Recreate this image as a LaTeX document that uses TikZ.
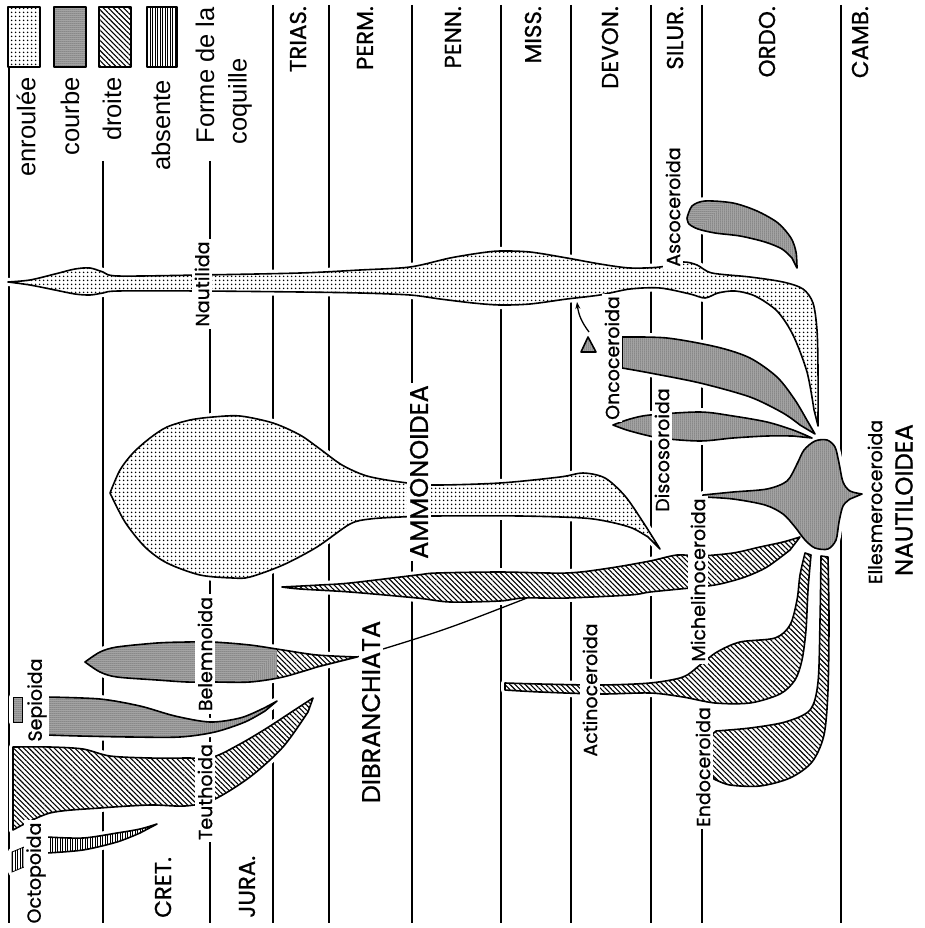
\documentclass[tikz,border=0pt]{standalone}
\usepackage{fontspec}
\setmainfont{Liberation Sans}
\newfontfamily\geo{Poppins}[FakeBold=0.8]
\usetikzlibrary{patterns.meta,arrows.meta}

% outlines of the shell groups (pixel units, y downwards)
\newcommand\shpNautilida{plot[smooth] coordinates {(8,282) (30,280) (55,274) (75,269) (90,268) (103,272) (118,276) (200,275) (300,273) (360,270) (410,267) (450,258) (480,253) (500,251) (530,252) (567,258) (600,264) (630,268) (660,267) (683,262) (697,265) (712,273) (750,277) (783,282) (803,289) (813,303) (817,330) (818,370) (818,426)} -- plot[smooth] coordinates {(814,410) (807,372) (793,335) (777,311) (755,296) (735,291) (718,293) (705,298) (690,294) (660,288) (630,289) (600,295) (567,299) (530,304) (500,305) (473,303) (440,299) (410,295) (360,293) (300,292) (200,291) (118,291) (103,293) (90,295) (75,294) (55,290) (30,285) (8,282)} -- cycle}
\newcommand\shpAmmonoidea{plot[smooth] coordinates {(110,493) (120,470) (133,453) (150,438) (167,427) (190,420) (213,417) (240,416) (273,423) (300,435) (320,449) (342,465) (367,476) (400,482) (433,485) (500,483) (560,477) (583,473) (605,478) (625,496) (643,522) (660,549)} -- plot[smooth] coordinates {(648,537) (632,528) (610,522) (583,518) (520,516) (433,516) (400,517) (370,519) (350,524) (317,547) (283,565) (250,577) (233,578) (200,575) (167,563) (145,547) (125,522) (110,493)} -- cycle}
\newcommand\shpMichelino{plot[smooth] coordinates {(282,587) (320,585) (350,583) (417,575) (437,573) (500,572) (567,573) (610,568) (650,561) (677,555) (700,556) (733,553) (760,547) (783,542) (800,537)} -- plot[smooth] coordinates {(790,550) (767,567) (745,577) (720,584) (700,587) (680,589) (650,592) (630,595) (567,598) (523,598) (500,601) (450,602) (417,598) (350,592) (300,589) (282,587)} -- cycle}
\newcommand\shpBelemnoida{plot[smooth] coordinates {(85,662) (100,652) (117,647) (157,643) (187,642) (213,642) (250,645) (283,650) (317,655) (357,657)} -- plot[smooth] coordinates {(317,667) (283,677) (250,682) (213,682) (187,682) (157,680) (117,677) (100,672) (85,662)} -- cycle}
\newcommand\shpSepioida{plot[smooth] coordinates {(47,697) (100,699) (140,706) (175,716) (210,722) (240,718) (262,709) (277,701)} -- plot[smooth] coordinates {(265,711) (245,722) (215,732) (180,737) (130,737) (80,736) (47,735)} -- cycle}
\newcommand\shpSepioidaBit{(13,697) rectangle (22,722)}
\newcommand\shpTeuthoida{plot[smooth] coordinates {(13,747) (50,747) (83,749) (110,756) (150,758) (185,758) (213,757) (240,744) (267,728) (293,711) (313,698)} -- plot[smooth] coordinates {(308,712) (283,747) (250,777) (213,800) (185,806) (150,805) (100,808) (50,813) (13,830)} -- cycle}
\newcommand\shpOctopoida{plot[smooth] coordinates {(47,837) (83,838) (117,833) (140,829) (157,824)} -- plot[smooth] coordinates {(140,833) (117,842) (83,850) (47,853)} -- cycle}
\newcommand\shpOctopoidaBit{(12,852) -- (24,847) -- (24,867) -- (12,872) -- cycle}
\newcommand\shpOncoceroida{plot[smooth] coordinates {(622,337) (667,338) (717,347) (750,358) (777,377) (795,400) (808,422) (815,434)} -- plot[smooth] coordinates {(800,425) (783,413) (750,397) (700,383) (650,373) (622,368)} -- cycle}
\newcommand\shpOncoBud{(581,352) -- (588,337) -- (596,352) -- cycle}
\newcommand\shpDiscosoroida{plot[smooth] coordinates {(613,425) (630,419) (650,415) (700,412) (733,416) (767,422) (793,430) (812,438)} -- plot[smooth] coordinates {(793,436) (767,436) (733,438) (700,441) (660,438) (630,431) (613,425)} -- cycle}
\newcommand\shpAscoceroida{plot[smooth] coordinates {(687,218) (692,206) (705,201) (733,203) (757,211) (778,223) (791,238) (796,252) (797,268)} -- plot[smooth] coordinates {(792,258) (782,249) (765,242) (740,236) (715,233) (698,229) (689,224) (687,218)} -- cycle}
\newcommand\shpActinoceroida{plot[smooth] coordinates {(505,683) (540,684) (600,685) (650,683) (683,677) (700,665) (717,652) (740,642) (775,638) (790,625) (797,600) (800,575) (805,553)} -- plot[smooth] coordinates {(811,555) (808,590) (806,630) (802,660) (795,680) (780,694) (750,703) (715,703) (683,697) (650,693) (600,694) (540,692) (505,690)} -- cycle}
\newcommand\shpEndoceroida{plot[smooth] coordinates {(821,556) (820,620) (818,682) (810,710) (785,722) (750,728) (716,731)} -- (708,738) -- (708,768) -- plot[smooth] coordinates {(714,779) (730,785) (760,786) (790,778) (812,762) (824,735) (828,690) (829,620) (828,557)} -- cycle}
\newcommand\shpEllesmero{plot[smooth] coordinates {(703,495) (733,492) (767,489) (787,481) (797,464) (804,450) (815,441) (827,440) (835,447) (839,463) (843,482) (850,491) (862,494)} -- plot[smooth] coordinates {(850,499) (843,506) (839,522) (836,540) (828,549) (815,548) (805,540) (795,527) (783,514) (765,505) (733,499) (703,497)} -- cycle}

\begin{document}
\begin{tikzpicture}[x=1pt,y=-1pt,
  perline/.style={line width=1.8pt},
  shell/.style={draw,line width=1.6pt,line join=round},
  halo/.style={draw=white,fill=white,line width=8pt,line join=round},
  enroulee/.style={pattern={Dots[distance=4pt,radius=1pt]}},
  courbe/.style={fill=black!30,postaction={pattern={Dots[distance=2pt,radius=0.5pt]}}},
  droite/.style={pattern={Lines[angle=-45,distance=3.6pt,line width=1.1pt]}},
  absente/.style={pattern={Lines[angle=90,distance=2.5pt,line width=0.9pt]}},
  period/.style={rotate=90,inner sep=0pt,font=\geo\fontsize{23}{23}\selectfont},
  taxon/.style={rotate=90,fill=white,inner sep=2.5pt,font=\geo\fontsize{19}{19}\selectfont},
  group/.style={rotate=90,fill=white,inner sep=2.5pt,font=\geo\fontsize{25.5}{25.5}\selectfont},
  legtext/.style={rotate=90,inner sep=0pt,font=\fontsize{25.5}{25.5}\selectfont}]
  \useasboundingbox[fill=white] (0,0) rectangle (924,928);

  % period boundaries
  \foreach \xx/\ya in {9/67,103/161,210/161,273/5,329/5,412/5,501/5,571/5,651/5,702/5,841/5}
    \draw[perline] (\xx,\ya) -- (\xx,923);

  % white gaps round the shells
  \foreach \shp in {\shpNautilida,\shpAmmonoidea,\shpMichelino,\shpBelemnoida,\shpSepioida,\shpSepioidaBit,\shpTeuthoida,\shpOctopoida,\shpOctopoidaBit,\shpOncoceroida,\shpOncoBud,\shpDiscosoroida,\shpAscoceroida,\shpActinoceroida,\shpEndoceroida,\shpEllesmero}
    \filldraw[halo] \shp;

  % shell fills
  \fill[enroulee] \shpNautilida;
  \fill[enroulee] \shpAmmonoidea;
  \fill[droite] \shpMichelino;
  \begin{scope}
    \clip (0,0) rectangle (277,928);
    \fill[courbe] \shpBelemnoida;
  \end{scope}
  \begin{scope}
    \clip (277,0) rectangle (924,928);
    \fill[droite] \shpBelemnoida;
  \end{scope}
  \fill[courbe] \shpSepioida;
  \fill[courbe] \shpSepioidaBit;
  \fill[droite] \shpTeuthoida;
  \fill[absente] \shpOctopoida;
  \fill[absente] \shpOctopoidaBit;
  \fill[courbe] \shpOncoceroida;
  \fill[courbe] \shpOncoBud;
  \fill[courbe] \shpDiscosoroida;
  \fill[courbe] \shpAscoceroida;
  \fill[droite] \shpActinoceroida;
  \fill[droite] \shpEndoceroida;
  \fill[courbe] \shpEllesmero;

  % outlines
  \foreach \shp in {\shpNautilida,\shpAmmonoidea,\shpMichelino,\shpBelemnoida,\shpSepioida,\shpTeuthoida,\shpOctopoida,\shpOncoceroida,\shpOncoBud,\shpDiscosoroida,\shpAscoceroida,\shpActinoceroida,\shpEndoceroida,\shpEllesmero}
    \draw[shell] \shp;
  \draw[line width=0.8pt] \shpSepioidaBit;
  \draw[line width=0.8pt] \shpOctopoidaBit;

  % links
  \coordinate (beltip) at (357,657);
  \coordinate (orthoedge) at (527,598);
  \coordinate (oncobud) at (589,332);
  \coordinate (nautbase) at (577,302);
  \draw[line width=1.3pt] (beltip) .. controls (445,630) .. (orthoedge);
  \draw[line width=1.3pt,-{Stealth[length=7pt,width=5pt]}] (oncobud) to[bend left=15] (nautbase);

  % period names
  \node[period,anchor=east] (trias) at (298,6) {TRIAS.};
  \node[period,anchor=east] (perm) at (365,6) {PERM.};
  \node[period,anchor=east] (penn) at (453,6) {PENN.};
  \node[period,anchor=east] (miss) at (533,6) {MISS.};
  \node[period,anchor=east] (devon) at (610,6) {DEVON.};
  \node[period,anchor=east] (silur) at (675,6) {SILUR.};
  \node[period,anchor=east] (ordo) at (767,6) {ORDO.};
  \node[period,anchor=east] (camb) at (860,6) {CAMB.};
  \node[period,anchor=west] (cret) at (163,918) {CRET.};
  \node[period,anchor=west] (jura) at (247,918) {JURA.};

  % taxa
  \node[taxon] (nautilida) at (202,284) {Nautilida};
  \node[taxon] (ascoceroida) at (673,207) {Ascoceroida};
  \node[taxon] (oncoceroida) at (612,358) {Oncoceroida};
  \node[taxon] (discosoroida) at (662,450) {Discosoroida};
  \node[taxon] (michelino) at (698,580) {Michelinoceroida};
  \node[taxon] (actinoceroida) at (590,690) {Actinoceroida};
  \node[taxon] (endoceroida) at (703,767) {Endoceroida};
  \node[taxon] (ellesmero) at (875,502) {Ellesmeroceroida};
  \node[taxon] (belemnoida) at (205,654) {Belemnoida};
  \node[taxon] (teuthoida) at (205,792) {Teuthoida};
  \node[taxon] (sepioida) at (37,700) {Sepioida};
  \node[taxon] (octopoida) at (36,873) {Octopoida};
  \node[group,fill=none,inner sep=0pt,font=\geo\fontsize{24.5}{24.5}\selectfont] (nautiloidea) at (904,500) {NAUTILOIDEA};
  \node[group] (ammonoidea) at (419,472) {AMMONOIDEA};
  \node[group] (dibranchiata) at (371,712) {DIBRANCHIATA};

  % key
  \draw[shell,enroulee] (8,7) rectangle (40,67);
  \draw[shell,courbe] (54,7) rectangle (86,67);
  \draw[shell,droite] (99,7) rectangle (131,67);
  \draw[shell,absente] (147,7) rectangle (177,67);
  \node[legtext,anchor=east] (kenr) at (26,77) {enroulée};
  \node[legtext,anchor=east] (kcou) at (70,77) {courbe};
  \node[legtext,anchor=east] (kdro) at (112,77) {droite};
  \node[legtext,anchor=east] (kabs) at (161,80) {absente};
  \node[legtext,anchor=east] (kforme) at (205,7) {Forme de la};
  \node[legtext,anchor=east] (kcoq) at (240,58) {coquille};
\end{tikzpicture}
\end{document}
